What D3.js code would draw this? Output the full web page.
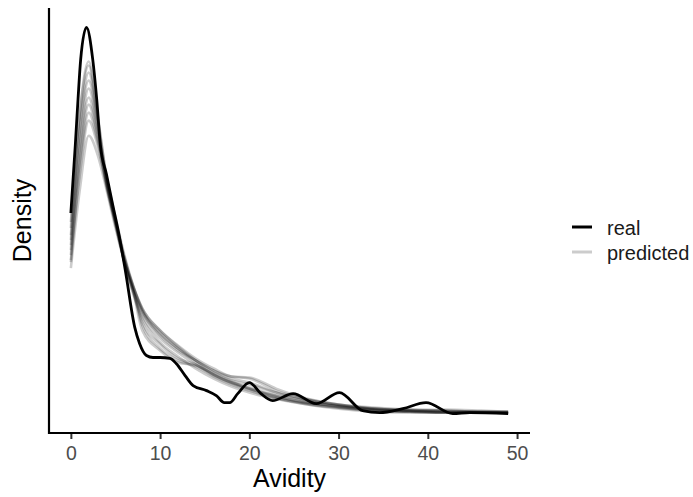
<!DOCTYPE html>
<html>
<head>
<meta charset="utf-8">
<script src="https://cdn.jsdelivr.net/npm/d3@7"></script>
<style>
  body { margin: 0; background: #fff; }
  text { font-family: "Liberation Sans", Arial, sans-serif; }
</style>
</head>
<body>
<svg id="chart" width="693" height="497"></svg>
<script>
const avidityReal = [0, 0.5, 0.8, 1.1, 1.75, 2.45, 2.9, 3.3, 4.0, 4.74, 5.4, 6.1, 7.16, 7.7, 8.47, 9.2, 10, 11.1, 11.8, 12.8, 13.7, 15.2, 16.3, 17.2, 17.8, 18.7, 20, 21.3, 22.6, 24.9, 27.5, 30.1, 32.7, 34.6, 37.2, 39.8, 42.8, 44.7, 49];
const densityReal = [0.201, 0.269, 0.314, 0.354, 0.386, 0.354, 0.314, 0.269, 0.239, 0.207, 0.179, 0.144, 0.087, 0.071, 0.059, 0.057, 0.057, 0.056, 0.051, 0.039, 0.029, 0.024, 0.019, 0.012, 0.012, 0.021, 0.032, 0.021, 0.014, 0.021, 0.011, 0.022, 0.004, 0.002, 0.006, 0.012, 0.001, 0.002, 0.001];

// predicted densities, all on the same avidity grid
const avidityGrid = [0, 1, 2, 3, 4, 5, 6, 7, 8, 10, 12, 14, 16, 18, 20, 23, 26, 30, 34, 38, 42, 46, 49];
const predictedDensity = [
  [0.186, 0.302, 0.352, 0.299, 0.236, 0.194, 0.152, 0.122, 0.099, 0.076, 0.062, 0.050, 0.041, 0.033, 0.026, 0.019, 0.015, 0.010, 0.007, 0.005, 0.004, 0.003, 0.003],
  [0.192, 0.299, 0.348, 0.296, 0.237, 0.197, 0.159, 0.128, 0.104, 0.079, 0.064, 0.054, 0.044, 0.036, 0.032, 0.022, 0.014, 0.008, 0.005, 0.004, 0.005, 0.004, 0.003],
  [0.174, 0.286, 0.341, 0.292, 0.234, 0.194, 0.156, 0.124, 0.089, 0.066, 0.054, 0.048, 0.038, 0.030, 0.024, 0.016, 0.011, 0.007, 0.004, 0.003, 0.002, 0.002, 0.002],
  [0.179, 0.282, 0.333, 0.288, 0.233, 0.192, 0.152, 0.120, 0.096, 0.072, 0.058, 0.046, 0.036, 0.028, 0.022, 0.016, 0.012, 0.009, 0.006, 0.004, 0.003, 0.002, 0.002],
  [0.164, 0.269, 0.325, 0.284, 0.232, 0.193, 0.157, 0.127, 0.104, 0.082, 0.066, 0.052, 0.040, 0.032, 0.026, 0.018, 0.013, 0.008, 0.005, 0.004, 0.003, 0.003, 0.002],
  [0.169, 0.264, 0.316, 0.279, 0.230, 0.190, 0.152, 0.122, 0.084, 0.064, 0.052, 0.049, 0.039, 0.031, 0.025, 0.017, 0.011, 0.006, 0.003, 0.002, 0.002, 0.002, 0.002],
  [0.159, 0.254, 0.309, 0.276, 0.230, 0.192, 0.156, 0.128, 0.106, 0.084, 0.068, 0.054, 0.042, 0.034, 0.030, 0.022, 0.016, 0.010, 0.006, 0.005, 0.004, 0.003, 0.003],
  [0.154, 0.246, 0.301, 0.272, 0.228, 0.190, 0.152, 0.124, 0.092, 0.070, 0.056, 0.050, 0.040, 0.032, 0.027, 0.019, 0.012, 0.007, 0.004, 0.003, 0.002, 0.002, 0.002],
  [0.152, 0.239, 0.293, 0.268, 0.227, 0.189, 0.154, 0.127, 0.106, 0.084, 0.069, 0.056, 0.046, 0.038, 0.036, 0.024, 0.016, 0.009, 0.005, 0.003, 0.003, 0.003, 0.003],
  [0.146, 0.224, 0.278, 0.259, 0.224, 0.186, 0.152, 0.124, 0.102, 0.080, 0.066, 0.054, 0.044, 0.038, 0.037, 0.026, 0.017, 0.010, 0.006, 0.004, 0.002, 0.002, 0.002]
];

const xTicks = [0, 10, 20, 30, 40, 50];
const legendLabels = ["real", "predicted"];

// panel box
const panel = { left: 49, right: 530, top: 8, bottom: 433 };

const svg = d3.select("#chart");

// ggplot style 5% expansion on both scales
const xExt = d3.extent(avidityReal.concat(avidityGrid));
const xPad = (xExt[1] - xExt[0]) * 0.05;
const x = d3.scaleLinear()
  .domain([xExt[0] - xPad, xExt[1] + xPad])
  .range([panel.left, panel.right]);

const allDens = densityReal.concat(d3.merge(predictedDensity));
const yExt = d3.extent(allDens);
const yPad = (yExt[1] - yExt[0]) * 0.05;
const y = d3.scaleLinear()
  .domain([yExt[0] - yPad, yExt[1] + yPad])
  .range([panel.bottom, panel.top]);

const line = d3.line()
  .x(d => x(d[0]))
  .y(d => y(d[1]))
  .curve(d3.curveMonotoneX);

// predicted first, real on top
const predG = svg.append("g");
predictedDensity.forEach(series => {
  predG.append("path")
    .datum(avidityGrid.map((a, i) => [a, series[i]]))
    .attr("d", line)
    .attr("fill", "none")
    .attr("stroke", "#000")
    .attr("stroke-opacity", 0.2)
    .attr("stroke-width", 2.6)
    .attr("stroke-linejoin", "round");
});

svg.append("path")
  .datum(avidityReal.map((a, i) => [a, densityReal[i]]))
  .attr("d", line)
  .attr("fill", "none")
  .attr("stroke", "#000")
  .attr("stroke-width", 2.8)
  .attr("stroke-linejoin", "round");

// x axis
const xAxis = svg.append("g")
  .attr("transform", "translate(0," + panel.bottom + ")")
  .call(d3.axisBottom(x).tickValues(xTicks).tickSize(6).tickSizeOuter(0).tickPadding(4));
xAxis.select(".domain").remove();
xAxis.selectAll(".tick line").attr("stroke", "#333").attr("stroke-width", 2);
xAxis.selectAll(".tick text")
  .attr("fill", "#4d4d4d")
  .attr("font-size", "19.5px")
  .attr("dy", null)
  .attr("y", 27);

// axis lines
svg.append("line")
  .attr("x1", panel.left).attr("x2", panel.right)
  .attr("y1", panel.bottom).attr("y2", panel.bottom)
  .attr("stroke", "#000").attr("stroke-width", 2.2);
svg.append("line")
  .attr("x1", panel.left).attr("x2", panel.left)
  .attr("y1", panel.top).attr("y2", panel.bottom + 1.1)
  .attr("stroke", "#000").attr("stroke-width", 2.2);

// titles
svg.append("text")
  .attr("x", (panel.left + panel.right) / 2)
  .attr("y", 487)
  .attr("text-anchor", "middle")
  .attr("font-size", "25px")
  .attr("fill", "#000")
  .text("Avidity");
svg.append("text")
  .attr("transform", "translate(31," + ((panel.top + panel.bottom) / 2) + ") rotate(-90)")
  .attr("text-anchor", "middle")
  .attr("font-size", "25px")
  .attr("fill", "#000")
  .text("Density");

// legend
const legend = svg.append("g").attr("transform", "translate(572,227)");
legendLabels.forEach((lab, i) => {
  const g = legend.append("g").attr("transform", "translate(0," + (i * 25) + ")");
  g.append("line")
    .attr("x1", 0).attr("x2", 20)
    .attr("stroke", "#000")
    .attr("stroke-opacity", i == 0 ? 1 : 0.2)
    .attr("stroke-width", 3);
  g.append("text")
    .attr("x", 35)
    .attr("y", 8)
    .attr("font-size", "20px")
    .attr("fill", "#1a1a1a")
    .text(lab);
});
</script>
</body>
</html>
